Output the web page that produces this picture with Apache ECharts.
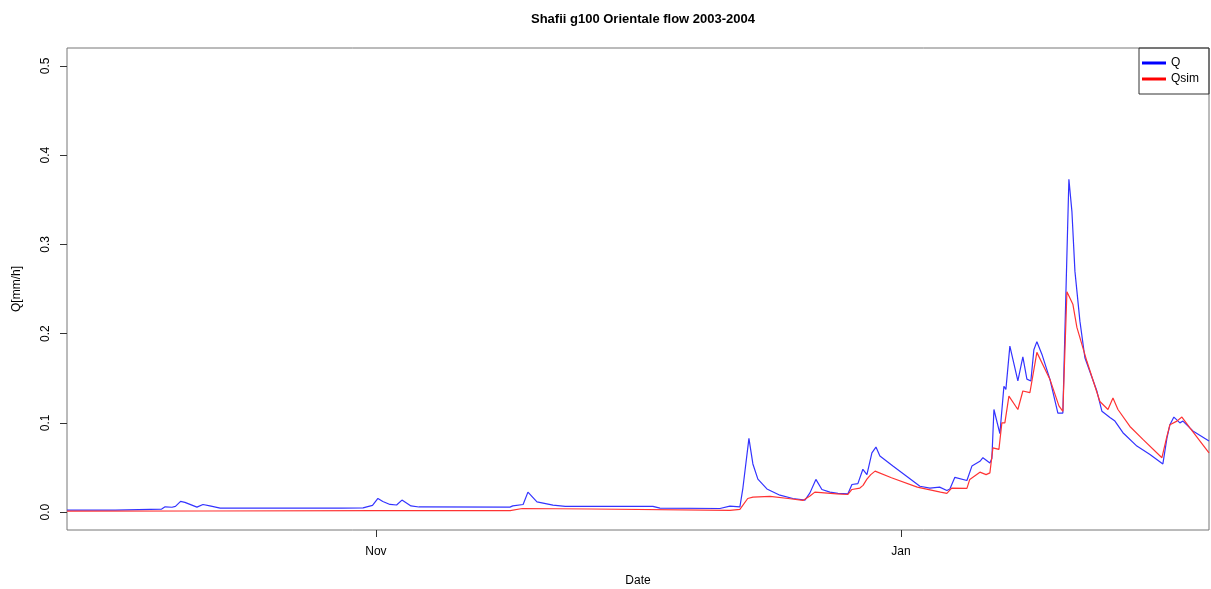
<!DOCTYPE html>
<html>
<head>
<meta charset="utf-8">
<script src="https://cdn.jsdelivr.net/npm/echarts@6/dist/echarts.min.js"></script>
<style>
  html, body { margin: 0; padding: 0; background: #fff; }
  #chart { width: 1211px; height: 589px; }
</style>
</head>
<body>
<div id="chart"></div>
<script>
// x values are days relative to 2003-11-01
const titleText = 'Shafii g100 Orientale flow 2003-2004';
const xTickDays = [0, 61];
const xTickLabels = ['Nov', 'Jan'];
const yTicks = [0, 0.1, 0.2, 0.3, 0.4, 0.5];
const xMin = -35.9, xMax = 96.8;
const yMin = -0.02, yMax = 0.52;

const qDays = [-35.9,-30.3,-30.2,-24.9,-24.5,-23.7,-23.3,-22.7,-22.2,-20.8,-20.1,-19.3,-18.1,-10,-4.5,-4.3,-4.0,-1.5,-0.4,0.23,0.8,1.63,2.4,3.02,4.07,5,15.57,15.9,17.1,17.66,18.71,20.57,22,32.18,33,39.97,41.13,42.29,42.64,43.34,43.8,44.38,45.43,46.94,48.45,49.85,50.43,51.12,51.82,52.75,53.68,54.84,55.31,56.0,56.58,57.05,57.63,58.1,58.56,60.07,61.7,63.21,64.37,65.5,66.34,66.69,67.27,68.67,69.25,70.18,70.53,71.34,71.57,71.81,72.5,72.97,73.2,73.66,74.59,75.17,75.64,76.1,76.45,76.8,77.38,78.31,79.24,79.82,80.05,80.52,80.87,81.22,81.8,82.38,83.77,84.36,85.29,85.87,86.8,88.42,89.94,91.44,91.91,92.26,92.72,93.42,93.77,94.93,96.8];
const qValues = [0.0022,0.0022,0.0034,0.0034,0.006,0.0055,0.0065,0.012,0.011,0.0056,0.0086,0.007,0.0045,0.0045,0.0045,0.006,0.0045,0.0048,0.0075,0.0153,0.012,0.0086,0.008,0.0135,0.007,0.0058,0.0056,0.007,0.0086,0.0224,0.0115,0.0078,0.0064,0.0064,0.0045,0.0041,0.0067,0.006,0.027,0.0826,0.054,0.037,0.026,0.019,0.0153,0.0135,0.0216,0.0367,0.0254,0.0224,0.021,0.0205,0.031,0.032,0.048,0.042,0.0665,0.0729,0.0628,0.0516,0.040,0.029,0.027,0.028,0.0243,0.026,0.039,0.0355,0.0516,0.057,0.061,0.055,0.06,0.115,0.088,0.141,0.1375,0.186,0.147,0.174,0.149,0.147,0.182,0.191,0.177,0.149,0.111,0.111,0.2,0.373,0.337,0.27,0.214,0.173,0.1357,0.113,0.106,0.102,0.089,0.074,0.0647,0.054,0.083,0.098,0.1065,0.100,0.102,0.091,0.0796];

const simDays = [-35.9,-20,0,15.6,17.0,25,41.13,42.29,43.2,43.8,45.8,47.9,49.62,50.43,51.0,53.56,54.84,55.31,56.23,56.6,57.05,57.5,58.0,59.9,62.9,65.6,66.34,66.9,68.67,69.0,70.18,70.9,71.34,71.69,72.39,72.73,73.08,73.55,74.59,75.17,75.99,76.8,78.31,79.36,79.82,80.29,80.98,81.45,82.61,84.12,85.06,85.64,86.22,87.61,89.12,91.33,91.91,92.26,93.07,93.65,94.58,96.8];
const simValues = [0.0011,0.0013,0.0017,0.0017,0.0041,0.0035,0.0019,0.003,0.0153,0.0168,0.0176,0.0153,0.0131,0.018,0.0224,0.0205,0.0198,0.0254,0.027,0.030,0.037,0.042,0.046,0.0385,0.028,0.0224,0.021,0.027,0.0266,0.0367,0.0448,0.042,0.044,0.072,0.0703,0.100,0.100,0.130,0.115,0.1357,0.134,0.179,0.149,0.119,0.113,0.247,0.233,0.207,0.169,0.124,0.115,0.128,0.115,0.096,0.0815,0.061,0.085,0.098,0.102,0.1065,0.0945,0.0665];

const FONT = "'Liberation Sans', Arial, Helvetica, sans-serif";
const zip = (a, b) => a.map((d, i) => [d, b[i]]);

const chart = echarts.init(document.getElementById('chart'), null, { renderer: 'canvas' });
chart.setOption({
  animation: false,
  backgroundColor: '#ffffff',
  title: {
    text: titleText,
    left: 638,
    textAlign: 'center',
    top: 8,
    textStyle: { fontFamily: FONT, fontSize: 13, fontWeight: 'bold', color: '#000' }
  },
  legend: {
    right: 2,
    top: 48,
    orient: 'vertical',
    icon: 'rect',
    itemWidth: 24,
    itemHeight: 3,
    itemGap: 2,
    padding: [8, 10, 8, 3],
    borderColor: '#333',
    borderWidth: 1,
    textStyle: { fontFamily: FONT, fontSize: 12, color: '#000', lineHeight: 14 },
    data: ['Q', 'Qsim']
  },
  grid: {
    left: 67, right: 2, top: 48, bottom: 59,
    show: true, borderColor: '#777', borderWidth: 1,
    containLabel: false, outerBoundsMode: 'none'
  },
  xAxis: {
    type: 'value',
    min: xMin, max: xMax,
    name: 'Date',
    nameLocation: 'middle',
    nameGap: 45,
    nameTextStyle: { fontFamily: FONT, fontSize: 12, color: '#000' },
    axisLine: { show: false, onZero: false },
    splitLine: { show: false },
    axisTick: { show: true, length: 7, customValues: xTickDays, lineStyle: { color: '#333' } },
    axisLabel: {
      customValues: xTickDays,
      margin: 16,
      fontFamily: FONT, fontSize: 12, color: '#000',
      formatter: v => xTickLabels[xTickDays.indexOf(v)]
    }
  },
  yAxis: {
    type: 'value',
    min: yMin, max: yMax,
    name: 'Q[mm/h]',
    nameLocation: 'middle',
    nameGap: 44,
    nameRotate: 90,
    nameTextStyle: { fontFamily: FONT, fontSize: 12, color: '#000' },
    axisLine: { show: false, onZero: false },
    splitLine: { show: false },
    axisTick: { show: true, length: 7, customValues: yTicks, lineStyle: { color: '#333' } },
    axisLabel: {
      customValues: yTicks,
      rotate: 90,
      margin: 15,
      fontFamily: FONT, fontSize: 12, color: '#000',
      formatter: v => v.toFixed(1)
    }
  },
  series: [
    {
      name: 'Q', type: 'line', data: zip(qDays, qValues),
      showSymbol: false, color: '#0000ff',
      lineStyle: { width: 1.2, color: '#3333ff' }
    },
    {
      name: 'Qsim', type: 'line', data: zip(simDays, simValues),
      showSymbol: false, color: '#ff0000',
      lineStyle: { width: 1.2, color: '#ff3333' }
    }
  ]
});
</script>
</body>
</html>
